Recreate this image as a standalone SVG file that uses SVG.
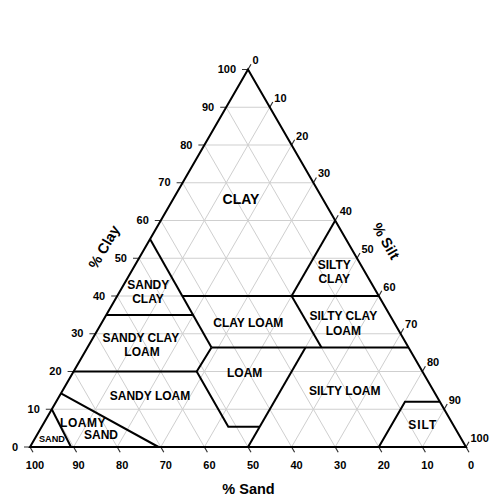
<svg xmlns="http://www.w3.org/2000/svg" width="500" height="499" viewBox="0 0 500 499">
<style>
.grid{stroke:#cfcfcf;stroke-width:1;fill:none}
.edge{stroke:#000;stroke-width:2;fill:none;stroke-linejoin:miter}
.bnd{stroke:#000;stroke-width:2;fill:none;stroke-linejoin:miter}
.tick{stroke:#333;stroke-width:1.2}
text{font-family:"Liberation Sans",Arial,sans-serif;font-weight:bold;fill:#000}
.num{font-size:11px}
.lbl{font-size:12px;text-anchor:middle}
.axis{font-size:14.5px;text-anchor:middle}
</style>
<rect width="500" height="499" fill="#fff"/>
<g id="grid">
<path class="grid" d="M51.8 409.25H444.2M73.6 371.5H422.4M95.4 333.75H400.6M117.2 296H378.8M139 258.25H357M160.8 220.5H335.2M182.6 182.75H313.4M204.4 145H291.6M226.2 107.25H269.8"/>
<path class="grid" d="M422.4 447L226.2 107.25M378.8 447L204.4 145M335.2 447L182.6 182.75M291.6 447L160.8 220.5M248 447L139 258.25M204.4 447L117.2 296M160.8 447L95.4 333.75M117.2 447L73.6 371.5M73.6 447L51.8 409.25"/>
<path class="grid" d="M73.6 447L269.8 107.25M117.2 447L291.6 145M160.8 447L313.4 182.75M204.4 447L335.2 220.5M248 447L357 258.25M291.6 447L378.8 296M335.2 447L400.6 333.75M378.8 447L422.4 371.5M422.4 447L444.2 409.25"/>
</g>
<g id="ticks">
<path class="tick" d="M30 447H24M51.8 409.25H45.8M73.6 371.5H67.6M95.4 333.75H89.4M117.2 296H111.2M139 258.25H133M160.8 220.5H154.8M182.6 182.75H176.6M204.4 145H198.4M226.2 107.25H220.2M248 69.5H242"/>
<path class="tick" d="M248 69.5l3 -5.2M269.8 107.25l3 -5.2M291.6 145l3 -5.2M313.4 182.75l3 -5.2M335.2 220.5l3 -5.2M357 258.25l3 -5.2M378.8 296l3 -5.2M400.6 333.75l3 -5.2M422.4 371.5l3 -5.2M444.2 409.25l3 -5.2M466 447l3 -5.2"/>
<path class="tick" d="M30 447l3 5.2M73.6 447l3 5.2M117.2 447l3 5.2M160.8 447l3 5.2M204.4 447l3 5.2M248 447l3 5.2M291.6 447l3 5.2M335.2 447l3 5.2M378.8 447l3 5.2M422.4 447l3 5.2M466 447l3 5.2"/>
</g>
<g id="connectors">
<path class="bnd" d="M150 239L211.5 347.5"/>
<path class="bnd" d="M106.3 315H193.5"/>
<path class="bnd" d="M182.6 296H378.8"/>
<path class="bnd" d="M291.6 296L335.2 220.5"/>
<path class="bnd" d="M291.6 296L321.5 347.5"/>
<path class="bnd" d="M211.5 347.5H408.5"/>
<path class="bnd" d="M211.5 347.5L196.7 371.5L228.3 426.7H259.7"/>
<path class="bnd" d="M73.6 371.5H196.7"/>
<path class="bnd" d="M305.5 347.5L248 447"/>
<path class="bnd" d="M378.8 447L405 401.7H439.8"/>
<path class="bnd" d="M61 393.3L158.5 447"/>
<path class="bnd" d="M51.8 409.25L71 447"/>
</g>
<g id="triangle">
<path class="edge" d="M30 447H466L248 69.5Z"/>
</g>
<g id="clay-axis" class="num" text-anchor="end">
<text x="18" y="450.5">0</text>
<text x="39.8" y="412.75">10</text>
<text x="61.6" y="375">20</text>
<text x="83.4" y="337.25">30</text>
<text x="105.2" y="299.5">40</text>
<text x="127" y="261.75">50</text>
<text x="148.8" y="224">60</text>
<text x="170.6" y="186.25">70</text>
<text x="192.4" y="148.5">80</text>
<text x="214.2" y="110.75">90</text>
<text x="236" y="73">100</text>
</g>
<g id="silt-axis" class="num">
<text x="252.5" y="64">0</text>
<text x="274.3" y="101.75">10</text>
<text x="296.1" y="139.5">20</text>
<text x="317.9" y="177.25">30</text>
<text x="339.7" y="215">40</text>
<text x="361.5" y="252.75">50</text>
<text x="383.3" y="290.5">60</text>
<text x="405.1" y="328.25">70</text>
<text x="426.9" y="366">80</text>
<text x="448.7" y="403.75">90</text>
<text x="470.5" y="441.5">100</text>
</g>
<g id="sand-axis" class="num" text-anchor="middle">
<text x="35" y="468.5">100</text>
<text x="78.6" y="468.5">90</text>
<text x="122.2" y="468.5">80</text>
<text x="165.8" y="468.5">70</text>
<text x="209.4" y="468.5">60</text>
<text x="253" y="468.5">50</text>
<text x="296.6" y="468.5">40</text>
<text x="340.2" y="468.5">30</text>
<text x="383.8" y="468.5">20</text>
<text x="427.4" y="468.5">10</text>
<text x="471" y="468.5">0</text>
</g>
<g id="axis-titles">
<text class="axis" x="248.5" y="494">% Sand</text>
<text class="axis" transform="translate(104,247) rotate(-60)" y="5">% Clay</text>
<text class="axis" transform="translate(386,241) rotate(60)" y="5">% Silt</text>
</g>
<g id="clay"><text class="lbl" x="241" y="204" style="font-size:14px">CLAY</text></g>
<g id="sandy-clay"><text class="lbl" x="148.3" y="289.3">SANDY</text><text class="lbl" x="148" y="303.3">CLAY</text></g>
<g id="silty-clay"><text class="lbl" x="334.3" y="269">SILTY</text><text class="lbl" x="334.2" y="283.3">CLAY</text></g>
<g id="sandy-clay-loam"><text class="lbl" x="140.8" y="341.7">SANDY CLAY</text><text class="lbl" x="142" y="356">LOAM</text></g>
<g id="clay-loam"><text class="lbl" x="248.3" y="327.3">CLAY LOAM</text></g>
<g id="silty-clay-loam"><text class="lbl" x="343.3" y="320">SILTY CLAY</text><text class="lbl" x="343.3" y="335">LOAM</text></g>
<g id="loam"><text class="lbl" x="244.7" y="376.7">LOAM</text></g>
<g id="sandy-loam"><text class="lbl" x="150" y="400">SANDY LOAM</text></g>
<g id="silty-loam"><text class="lbl" x="344.7" y="395">SILTY LOAM</text></g>
<g id="silt"><text class="lbl" x="422.8" y="429.3" letter-spacing="1">SILT</text></g>
<g id="loamy-sand"><text class="lbl" x="83" y="426.7" letter-spacing="0.5">LOAMY</text><text class="lbl" x="101" y="439.3">SAND</text></g>
<g id="sand"><text class="lbl" x="52" y="441.7" style="font-size:9.2px">SAND</text></g>
</svg>
